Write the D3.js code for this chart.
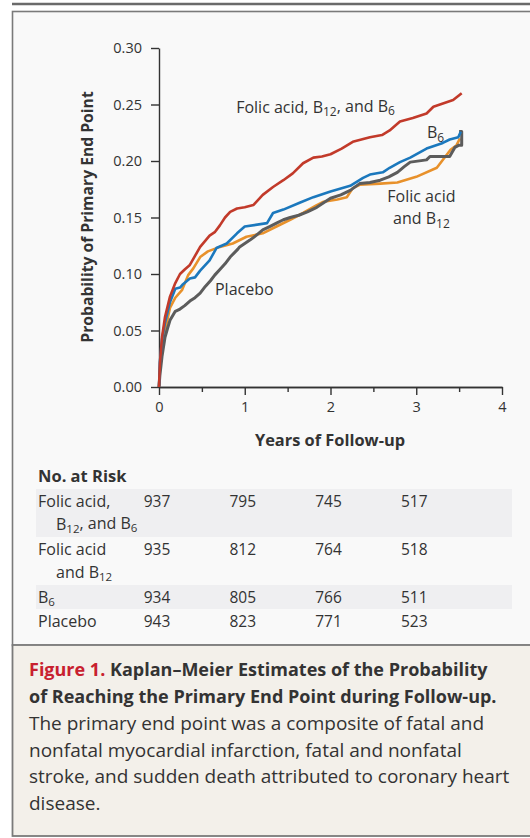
<!DOCTYPE html>
<html><head><meta charset="utf-8">
<script src="https://cdn.jsdelivr.net/npm/d3@7"></script>
<style>
body{margin:0;background:#fff}
svg{display:block}
text{font-family:"Open Sans","Noto Sans",sans-serif;fill:#333}
</style>
</head><body>
<svg id="c" width="530" height="838"></svg>
<script>
// ---------------- data ----------------
const xTicks = [0, 1, 2, 3, 4];
const xMinorTicks = [0.5, 1.5, 2.5, 3.5];
const yTicks = [0, 0.05, 0.10, 0.15, 0.20, 0.25, 0.30];

const redT = [0,0.01,0.035,0.07,0.128,0.19,0.245,0.30,0.36,0.42,0.48,0.59,0.65,0.71,0.77,0.83,0.91,1.0,1.10,1.21,1.33,1.45,1.56,1.68,1.80,1.90,2.0,2.13,2.26,2.46,2.60,2.69,2.81,2.96,3.12,3.20,3.43,3.53];
const redP = [0,0.020,0.044,0.062,0.080,0.092,0.100,0.104,0.108,0.116,0.124,0.134,0.137,0.143,0.150,0.155,0.158,0.159,0.161,0.170,0.177,0.183,0.189,0.198,0.203,0.204,0.206,0.211,0.217,0.221,0.223,0.227,0.235,0.238,0.242,0.248,0.254,0.260];

const blueT = [0,0.01,0.035,0.07,0.128,0.19,0.245,0.28,0.36,0.42,0.48,0.59,0.67,0.79,0.91,1.0,1.26,1.33,1.45,1.64,1.80,2.0,2.23,2.38,2.46,2.61,2.69,2.81,2.93,3.12,3.31,3.39,3.49,3.52];
const blueP = [0,0.022,0.042,0.057,0.075,0.087,0.088,0.091,0.096,0.097,0.103,0.112,0.123,0.127,0.136,0.142,0.145,0.154,0.157,0.163,0.168,0.173,0.178,0.185,0.188,0.190,0.194,0.199,0.203,0.211,0.216,0.219,0.221,0.226];

const orangeT = [0,0.01,0.035,0.07,0.128,0.19,0.27,0.34,0.40,0.48,0.57,0.71,0.86,1.02,1.21,1.37,1.53,1.68,1.84,1.92,2.08,2.19,2.26,2.34,2.58,2.78,3.0,3.24,3.34,3.40,3.47,3.51];
const orangeP = [0,0.015,0.033,0.050,0.070,0.079,0.086,0.099,0.105,0.115,0.120,0.124,0.127,0.133,0.136,0.142,0.148,0.154,0.161,0.164,0.166,0.168,0.176,0.179,0.180,0.181,0.186,0.194,0.204,0.210,0.214,0.220];

const grayT = [0,0.01,0.035,0.07,0.10,0.128,0.19,0.245,0.30,0.36,0.42,0.48,0.54,0.60,0.65,0.71,0.77,0.83,0.92,0.94,1.06,1.13,1.21,1.29,1.37,1.45,1.53,1.63,1.73,1.84,1.92,2.0,2.12,2.23,2.34,2.46,2.58,2.68,2.78,2.86,2.93,3.12,3.16,3.39,3.45,3.50,3.53,3.53,3.50];
const grayP = [0,0.010,0.027,0.044,0.052,0.059,0.067,0.069,0.072,0.076,0.079,0.083,0.089,0.094,0.099,0.104,0.109,0.115,0.122,0.124,0.130,0.134,0.139,0.142,0.145,0.148,0.150,0.152,0.155,0.159,0.163,0.167,0.170,0.174,0.180,0.181,0.183,0.186,0.190,0.195,0.199,0.201,0.204,0.204,0.212,0.214,0.214,0.226,0.226];

const riskTimes = [0, 1, 2, 3];
const riskFAB12B6 = [937, 795, 745, 517];
const riskFAB12 = [935, 812, 764, 518];
const riskB6 = [934, 805, 766, 511];
const riskPlacebo = [943, 823, 771, 523];

// ---------------- setup ----------------
const svg = d3.select("#c");
const W = 530, H = 838;
const x = d3.scaleLinear([0, 4], [159, 502]);
const y = d3.scaleLinear([0, 0.30], [387, 48]);
const ink = "#333";

// frame
svg.append("rect").attr("x", 12.5).attr("y", 11.5).attr("width", W).attr("height", 634)
  .attr("fill", "#f9f9f9").attr("stroke", "#7a7a7a").attr("stroke-width", 1.6);
svg.append("rect").attr("x", 12.5).attr("y", 645).attr("width", W).attr("height", 191)
  .attr("fill", "#f3f0ea").attr("stroke", "#7a7a7a").attr("stroke-width", 1.8);
svg.append("line").attr("x1", 12).attr("x2", W).attr("y1", 4).attr("y2", 4)
  .attr("stroke", "#6a6a6a").attr("stroke-width", 2.5);

// helper for text with subscripts: parts = [[str, isSub], ...]
function richText(sel, parts, subSize) {
  parts.forEach(([s, sub], i) => {
    const t = sel.append("tspan").text(s);
    if (sub) t.attr("font-size", subSize).attr("dy", "0.28em");
    else if (i > 0 && parts[i - 1][1]) t.attr("dy", "-0.28em");
  });
  return sel;
}

// ---------------- axes ----------------
const gy = svg.append("g").attr("transform", `translate(${x(0)},0)`)
  .call(d3.axisLeft(y).tickValues(yTicks).tickFormat(d3.format(".2f")).tickSize(8).tickSizeOuter(0).tickPadding(9));
const gx = svg.append("g").attr("transform", `translate(0,${y(0)})`)
  .call(d3.axisBottom(x).tickValues(xTicks).tickFormat(d3.format("d")).tickSize(8).tickSizeOuter(0).tickPadding(7));
const gxm = svg.append("g").attr("transform", `translate(0,${y(0)})`)
  .call(d3.axisBottom(x).tickValues(xMinorTicks).tickFormat("").tickSize(5).tickSizeOuter(0));
[gy, gx, gxm].forEach(g => {
  g.selectAll("path.domain").attr("stroke", ink).attr("stroke-width", 1.4);
  g.selectAll(".tick line").attr("stroke", ink).attr("stroke-width", 1.4);
  g.selectAll(".tick text").attr("font-family", "Open Sans").attr("font-size", 14.5).attr("fill", ink);
});

svg.append("text").attr("transform", `translate(93,217) rotate(-90)`)
  .attr("text-anchor", "middle").attr("font-weight", "bold").attr("font-size", 15.7)
  .text("Probability of Primary End Point");
svg.append("text").attr("x", 330).attr("y", 446)
  .attr("text-anchor", "middle").attr("font-weight", "bold").attr("font-size", 16.4)
  .text("Years of Follow-up");

// ---------------- curves ----------------
const series = [
  { t: orangeT, p: orangeP, color: "#e8912b", w: 2.6 },
  { t: grayT, p: grayP, color: "#5c5c5c", w: 3 },
  { t: blueT, p: blueP, color: "#1b78bd", w: 2.6 },
  { t: redT, p: redP, color: "#c23a2a", w: 2.6 }
];
series.forEach(s => {
  const pts = s.t.map((t, i) => [t, s.p[i]]);
  svg.append("path").datum(pts)
    .attr("fill", "none").attr("stroke", s.color).attr("stroke-width", s.w)
    .attr("stroke-linejoin", "round")
    .attr("d", d3.line().x(d => x(d[0])).y(d => y(d[1])));
});

// curve labels
const lf = 16;
richText(svg.append("text").attr("x", x(0.90)).attr("y", y(0.2425)).attr("font-size", lf),
  [["Folic acid, B", 0], ["12", 1], [", and B", 0], ["6", 1]], 12);
richText(svg.append("text").attr("x", x(3.125)).attr("y", y(0.220)).attr("font-size", lf),
  [["B", 0], ["6", 1]], 12);
svg.append("text").attr("x", x(3.06)).attr("y", y(0.1635)).attr("font-size", lf)
  .attr("text-anchor", "middle").text("Folic acid");
richText(svg.append("text").attr("x", x(3.06)).attr("y", y(0.1440)).attr("font-size", lf)
  .attr("text-anchor", "middle"), [["and B", 0], ["12", 1]], 12);
svg.append("text").attr("x", x(0.653)).attr("y", y(0.081)).attr("font-size", lf).text("Placebo");

// ---------------- risk table ----------------
svg.append("text").attr("x", 38).attr("y", 482).attr("font-weight", "bold").attr("font-size", 16.5)
  .text("No. at Risk");
const rows = [
  { lines: [[["Folic acid,", 0]], [["B", 0], ["12", 1], [", and B", 0], ["6", 1]]], vals: riskFAB12B6, top: 489, h: 48, shade: true },
  { lines: [[["Folic acid", 0]], [["and B", 0], ["12", 1]]], vals: riskFAB12, top: 537, h: 48, shade: false },
  { lines: [[["B", 0], ["6", 1]]], vals: riskB6, top: 585, h: 24, shade: true },
  { lines: [[["Placebo", 0]]], vals: riskPlacebo, top: 609, h: 24, shade: false }
];
const tf = 16;
rows.forEach(r => {
  if (r.shade) svg.append("rect").attr("x", 36).attr("y", r.top).attr("width", 476).attr("height", r.h).attr("fill", "#efeff1");
  r.lines.forEach((ln, i) => {
    richText(svg.append("text").attr("x", i === 0 ? 38 : 56).attr("y", r.top + 18 + i * 23).attr("font-size", tf), ln, 11.5);
  });
  r.vals.forEach((v, i) => {
    svg.append("text").attr("x", x(riskTimes[i]) - 2).attr("y", r.top + 18).attr("font-size", 15.5)
      .attr("text-anchor", "middle").text(v);
  });
});

// ---------------- caption ----------------
const cf = 18;
const c1 = svg.append("text").attr("x", 29).attr("y", 676).attr("font-size", cf).attr("font-weight", "bold");
c1.append("tspan").style("fill", "#c8202f").text("Figure 1. ");
c1.append("tspan").text("Kaplan\u2013Meier Estimates of the Probability");
svg.append("text").attr("x", 29).attr("y", 703).attr("font-size", cf).attr("font-weight", "bold")
  .text("of Reaching the Primary End Point during Follow-up.");
const body = [
  "The primary end point was a composite of fatal and",
  "nonfatal myocardial infarction, fatal and nonfatal",
  "stroke, and sudden death attributed to coronary heart",
  "disease."
];
body.forEach((l, i) => {
  svg.append("text").attr("x", 29).attr("y", 730 + i * 26.7).attr("font-size", 19).text(l);
});
</script>
</body></html>
